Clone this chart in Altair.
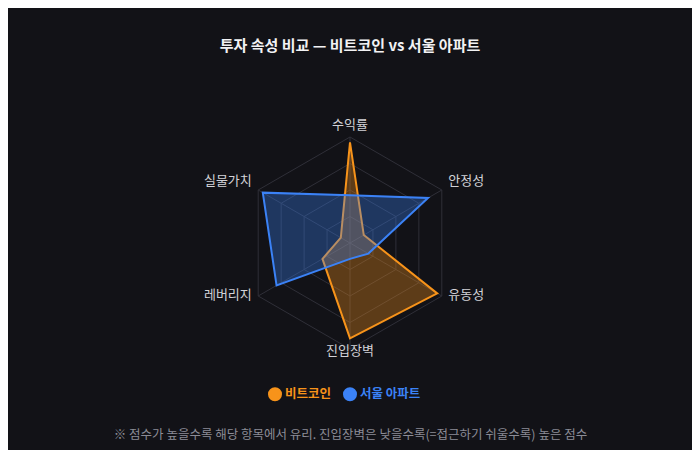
import altair as alt
import pandas as pd

# ---------------- data ----------------
AXES = ["수익률", "안정성", "유동성", "진입장벽", "레버리지", "실물가치"]
BTC = [95, 15, 95, 90, 30, 10]
APT = [45, 85, 20, 15, 80, 95]
SERIES = ["비트코인", "서울 아파트"]
COLORS = ["#f7931a", "#3b82f6"]
RINGS = [25, 50, 75, 100]
TITLE = "투자 속성 비교 — 비트코인 vs 서울 아파트"
NOTE = "※ 점수가 높을수록 해당 항목에서 유리. 진입장벽은 낮을수록(=접근하기 쉬울수록) 높은 점수"

# ---------------- layout / style ----------------
FONT = "Noto Sans CJK KR"
BG = "#121217"
GRID = "#2f2f38"
LABEL = "#d2d2d8"
NOTE_C = "#8c8c96"
W, H = 684, 330
PAD_T, PAD_B = 62, 50
PX = 1.06            # pixels per score unit (radius 100 -> 106 px)
CY = 173             # centre y inside the view (px)
LABEL_R = 107        # label radius in score units

n = len(AXES)
series_df = pd.DataFrame(
    [{"series": s, "idx": i, "axis": a, "score": v}
     for s, vals in zip(SERIES, [BTC, APT])
     for i, (a, v) in enumerate(zip(AXES, vals))]
)
ring_df = pd.DataFrame([{"ring": r, "idx": i, "score": r} for r in RINGS for i in range(n)])
spoke_df = pd.DataFrame([{"idx": i, "end": e, "score": s}
                         for i in range(n) for e, s in [(0, 0), (1, max(RINGS))]])
label_df = pd.DataFrame([{"idx": i, "axis": a, "score": LABEL_R} for i, a in enumerate(AXES)])

xscale = alt.Scale(domain=[-(W / 2) / PX, (W / 2) / PX], nice=False, zero=False)
yscale = alt.Scale(domain=[-(H - CY) / PX, CY / PX], nice=False, zero=False)
xaxis = alt.Axis(title=NOTE, labels=False, ticks=False, domain=False, grid=False,
                 titleFont=FONT, titleFontSize=12.5, titleFontWeight="normal",
                 titleColor=NOTE_C, titlePadding=28)


def polar(data):
    return alt.Chart(data).transform_calculate(
        ang=f"datum.idx * 2 * PI / {n}"
    ).transform_calculate(
        px="datum.score * sin(datum.ang)",
        py="datum.score * cos(datum.ang)",
    )


X = alt.X("px:Q", scale=xscale, axis=xaxis)
Y = alt.Y("py:Q", scale=yscale, axis=None)

rings = polar(ring_df).mark_line(interpolate="linear-closed", stroke=GRID, strokeWidth=1).encode(
    x=X, y=Y, detail="ring:N", order="idx:Q"
)
spokes = polar(spoke_df).mark_line(stroke=GRID, strokeWidth=1).encode(
    x=X, y=Y, detail="idx:N", order="end:Q"
)

label_color_expr = f"datum.value == '{SERIES[0]}' ? '{COLORS[0]}' : '{COLORS[1]}'"
areas = polar(series_df).mark_line(
    interpolate="linear-closed", strokeWidth=2, fillOpacity=0.33, strokeJoin="miter"
).encode(
    x=X, y=Y,
    color=alt.Color("series:N", scale=alt.Scale(domain=SERIES, range=COLORS),
                    sort=SERIES,
                    legend=alt.Legend(orient="none", legendX=260, legendY=317,
                                      direction="horizontal", title=None,
                                      symbolType="circle", symbolSize=49,
                                      symbolStrokeWidth=7, symbolOpacity=1,
                                      labelFont=FONT, labelFontSize=12.5,
                                      labelFontWeight="bold",
                                      labelColor={"expr": label_color_expr},
                                      labelOffset=3, columnPadding=0, padding=0)),
    fill=alt.Fill("series:N", scale=alt.Scale(domain=SERIES, range=COLORS), legend=None),
    detail="series:N",
    order="idx:Q",
)


def labels(sel, align):
    return polar(label_df).transform_filter(
        alt.FieldOneOfPredicate(field="idx", oneOf=sel)
    ).mark_text(align=align, baseline="middle", dy=-5, font=FONT, fontSize=13,
                color=LABEL).encode(x=X, y=Y, text="axis:N")


chart = alt.layer(
    rings, spokes, areas,
    labels([0, 3], "center"), labels([1, 2], "left"), labels([4, 5], "right"),
).properties(
    width=W, height=H,
    title=alt.TitleParams(TITLE, font=FONT, fontSize=15, fontWeight="bold",
                          color="#f2f2f4", anchor="middle", offset=16),
    padding={"left": 0, "right": 0, "top": PAD_T, "bottom": PAD_B},
    autosize=alt.AutoSizeParams(type="none"),
    background=BG,
).configure_view(stroke=None)

chart.save("out.html", embed_options={"renderer": "svg", "actions": False})
